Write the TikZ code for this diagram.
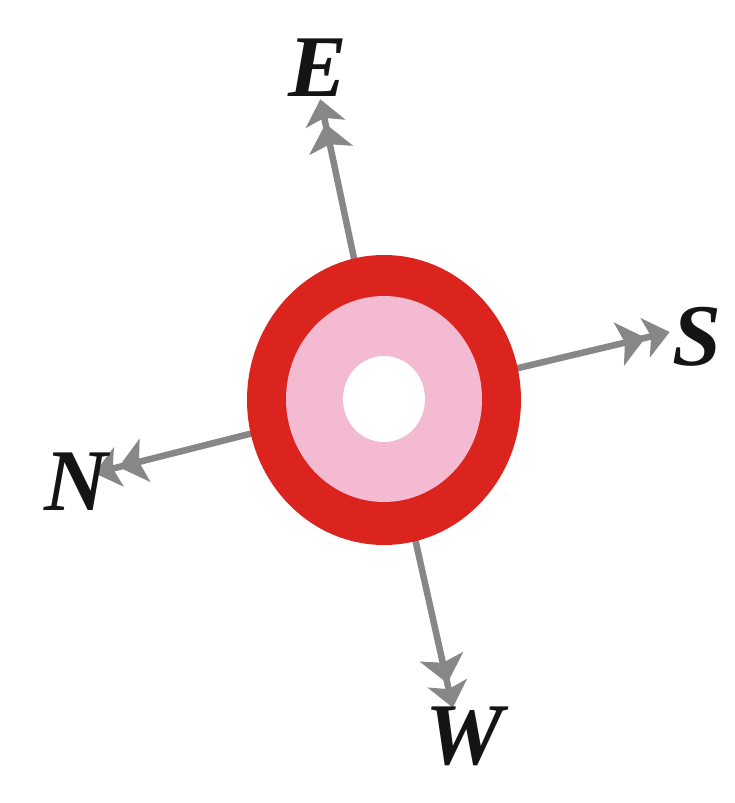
\documentclass[tikz,border=0pt]{standalone}
\usepackage{fontspec}
\setmainfont{Liberation Serif}
\usetikzlibrary{arrows.meta}
\definecolor{ringred}{RGB}{220,36,30}
\definecolor{ringpink}{RGB}{244,186,210}
\definecolor{arrowgray}{RGB}{135,135,135}
\tikzset{
  dirarrow/.style={draw=arrowgray,line width=6.5pt,
    -{Stealth[length=27pt,width=44pt,inset=6pt]Stealth[length=25pt,width=40pt,inset=6pt,sep=-13pt]}},
  dirlabel/.style={font=\fontsize{88}{88}\selectfont\bfseries\itshape,text=black!92,inner sep=0pt}
}
\begin{document}
\begin{tikzpicture}
\useasboundingbox (0pt,0pt) rectangle (735pt,803pt);
\coordinate (c) at (384pt,403pt);
\coordinate (e) at (323pt,691pt);
\coordinate (s) at (657pt,468pt);
\coordinate (n) at (107pt,333pt);
\coordinate (w) at (450pt,108pt);
\draw[dirarrow] (c) -- (e);
\draw[dirarrow] (c) -- (s);
\draw[dirarrow] (c) -- (n);
\draw[dirarrow] (c) -- (w);
\fill[ringred] (384pt,403pt) ellipse [x radius=137pt, y radius=145pt];
\fill[ringpink] (384pt,404pt) ellipse [x radius=98pt, y radius=103pt];
\fill[white] (384pt,404pt) ellipse [x radius=41pt, y radius=43pt];
\node[dirlabel] (le) at (318pt,735pt) {E};
\node[dirlabel] (ls) at (697pt,466pt) {S};
\node[dirlabel] (ln) at (76pt,321pt) {N};
\node[dirlabel] (lw) at (465pt,67pt) {W};
\end{tikzpicture}
\end{document}
